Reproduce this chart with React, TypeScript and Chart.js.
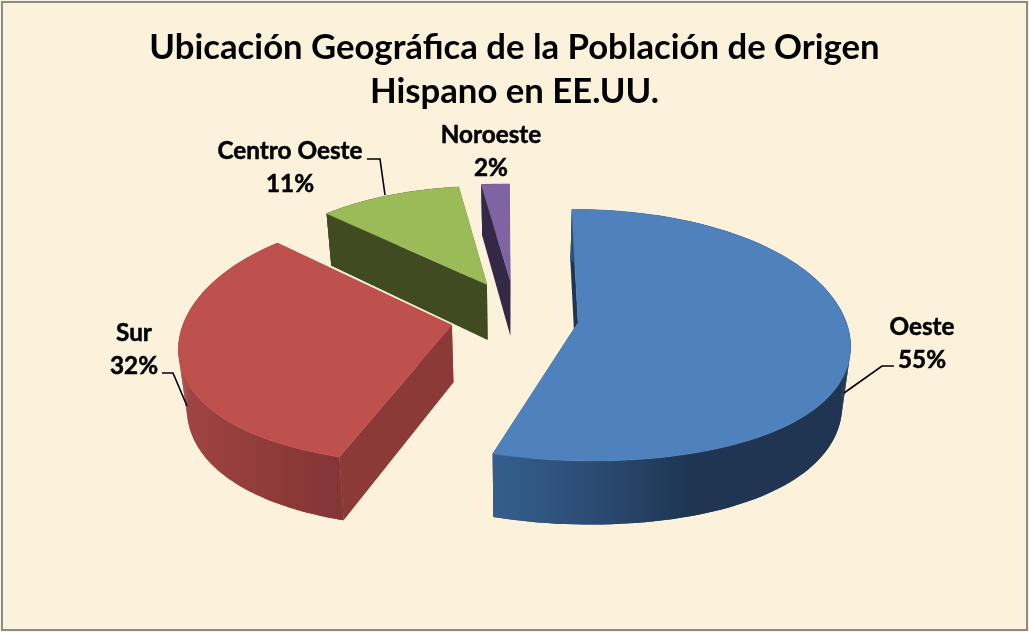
import React, { useEffect, useRef } from "react";
import { Chart, registerables } from "chart.js";

Chart.register(...registerables);

const titleLines = ["Ubicación Geográfica de la Población de Origen", "Hispano en EE.UU."];
const regions = ["Oeste", "Sur", "Centro Oeste", "Noroeste"];
const shares = [55, 32.49, 10.51, 2];

const FONT = "Lato, Carlito, Calibri, sans-serif";
const topColors = ["#4f81bd", "#be504d", "#9bbb59", "#8064a2"];
const wallColors = ["#1f3552", "#8c3a38", "#404b22", "#332845"];
const rimStops: string[][] = [
  ["#345f8d", "#2b4c74", "#1f3552", "#1f3552"],
  ["#a04543", "#973f3e", "#8c3a38", "#843537"],
  ["#404b22", "#404b22", "#404b22", "#404b22"],
  ["#332845", "#332845", "#332845", "#332845"],
];
const drawOrder = [3, 2, 1, 0];

const TILT = 0.463;
const PERSPECTIVE_Y = 0.1;
const PERSPECTIVE_X = 0.13;
const PERSPECTIVE_X_CURVE = 0.05;
const DEPTH = 57;
const BOTTOM_NARROW = 0.975;
const EXPLODE = 64;
const LIFT = 1.3;
const SHRINK = 0.3;
const STEPS = 120;

const labelBoxes = [
  { x: 922, y: 327, leader: [[894, 366], [882, 366], [844, 393]] },
  { x: 134, y: 333, leader: [[162, 373], [173, 373], [187, 406]] },
  { x: 290, y: 151, leader: [[367, 159], [380, 159], [385, 195]] },
  { x: 491, y: 135, leader: [] as number[][] },
];

const pie3d = {
  id: "pie3d",
  beforeDraw(chart: any) {
    const { ctx, width, height } = chart;
    ctx.save();
    ctx.fillStyle = "#fcf1da";
    ctx.fillRect(0, 0, width, height);
    ctx.strokeStyle = "#8a8a8a";
    ctx.lineWidth = 2;
    ctx.strokeRect(2, 2, width - 4, height - 4);
    ctx.restore();
  },
  beforeDatasetDraw(chart: any, args: any) {
    const { ctx } = chart;
    const meta = args.meta;
    const project = (arc: any, a: number, r: number, drop: boolean) => {
      const p = arc.getProps(["x", "y", "startAngle", "endAngle", "outerRadius"], true);
      const mid = (p.startAngle + p.endAngle) / 2;
      const o = (arc.options.offset || 0) / p.outerRadius;
      const sm = Math.sin(mid);
      const back = sm < 0;
      const v0 = o * sm * (back ? LIFT : 1);
      const scale = back ? 1 + SHRINK * v0 : 1;
      const u = o * Math.cos(mid) + r * scale * Math.cos(a);
      const v = v0 + r * scale * Math.sin(a);
      const den = 1 - PERSPECTIVE_Y * v;
      const denX = 1 - PERSPECTIVE_X * v - PERSPECTIVE_X_CURVE * v * v;
      return [
        p.x + ((u * p.outerRadius) / denX) * (drop ? BOTTOM_NARROW : 1),
        p.y + (v * p.outerRadius * TILT) / den + (drop ? DEPTH / den : 0),
      ];
    };
    const poly = (pts: number[][], fill: any) => {
      ctx.beginPath();
      pts.forEach((q, i) => (i ? ctx.lineTo(q[0], q[1]) : ctx.moveTo(q[0], q[1])));
      ctx.closePath();
      ctx.fillStyle = fill;
      ctx.fill();
    };
    ctx.save();
    drawOrder.forEach((i) => {
      const arc = meta.data[i];
      const { startAngle: s, endAngle: e } = arc.getProps(["startAngle", "endAngle"], true);
      const top: number[][] = [];
      const bottom: number[][] = [];
      for (let k = 0; k <= STEPS; k++) {
        const a = s + ((e - s) * k) / STEPS;
        top.push(project(arc, a, 1, false));
        bottom.push(project(arc, a, 1, true));
      }
      const apex = project(arc, s, 0, false);
      const apexLow = project(arc, s, 0, true);
      poly([apex, top[0], bottom[0], apexLow], wallColors[i]);
      poly([apex, top[STEPS], bottom[STEPS], apexLow], wallColors[i]);
      const xs = top.map((q) => q[0]);
      const minX = i === 0 ? top[STEPS][0] : Math.min(...xs);
      const maxX = Math.max(...xs) - (i === 0 ? 60 : 0);
      const g = ctx.createLinearGradient(minX, 0, maxX, 0);
      rimStops[i].forEach((c, n) => g.addColorStop(n / 3, c));
      poly([...top, ...bottom.slice().reverse()], g);
      for (let k = 0; k < STEPS; k++) {
        poly([top[k], top[k + 1], bottom[k + 1], bottom[k]], g);
      }
      poly([apex, ...top], topColors[i]);
      ctx.strokeStyle = topColors[i];
      ctx.lineWidth = 0.5;
      ctx.stroke();
    });
    ctx.restore();
    return false;
  },
  afterDatasetsDraw(chart: any) {
    const { ctx } = chart;
    const total = shares.reduce((a, b) => a + b, 0);
    ctx.save();
    ctx.fillStyle = "#000";
    ctx.strokeStyle = "#000";
    ctx.font = `bold 24.3px ${FONT}`;
    ctx.textAlign = "center";
    ctx.textBaseline = "middle";
    regions.forEach((name, i) => {
      const b = labelBoxes[i];
      const pct = `${Math.round((shares[i] / total) * 100)}%`;
      ctx.lineWidth = 0.5;
      ctx.fillText(name, b.x, b.y);
      ctx.strokeText(name, b.x, b.y);
      ctx.fillText(pct, b.x, b.y + 33);
      ctx.strokeText(pct, b.x, b.y + 33);
      if (b.leader.length) {
        ctx.lineWidth = 1.6;
        ctx.beginPath();
        b.leader.forEach((q, n) => (n ? ctx.lineTo(q[0], q[1]) : ctx.moveTo(q[0], q[1])));
        ctx.stroke();
      }
    });
    ctx.restore();
  },
};

export default function App() {
  const ref = useRef<HTMLCanvasElement>(null);
  useEffect(() => {
    const chart = new Chart(ref.current!, {
      type: "pie",
      data: {
        labels: regions,
        datasets: [{ data: shares, backgroundColor: topColors, offset: EXPLODE, borderWidth: 0 }],
      },
      options: {
        responsive: false,
        animation: false,
        events: [],
        radius: 267,
        rotation: -0.3,
        plugins: {
          legend: { display: false },
          tooltip: { enabled: false },
          title: {
            display: true,
            text: titleLines,
            color: "#000",
            font: { family: FONT, size: 34.7, weight: "bold", lineHeight: 1.27 },
            padding: { top: 26, bottom: -110 },
          },
        },
      } as any,
      plugins: [pie3d],
    });
    return () => chart.destroy();
  }, []);
  return (
    <canvas
      ref={ref}
      width={1029}
      height={632}
      style={{ position: "fixed", left: 0, top: 0, width: 1029, height: 632 }}
    />
  );
}
